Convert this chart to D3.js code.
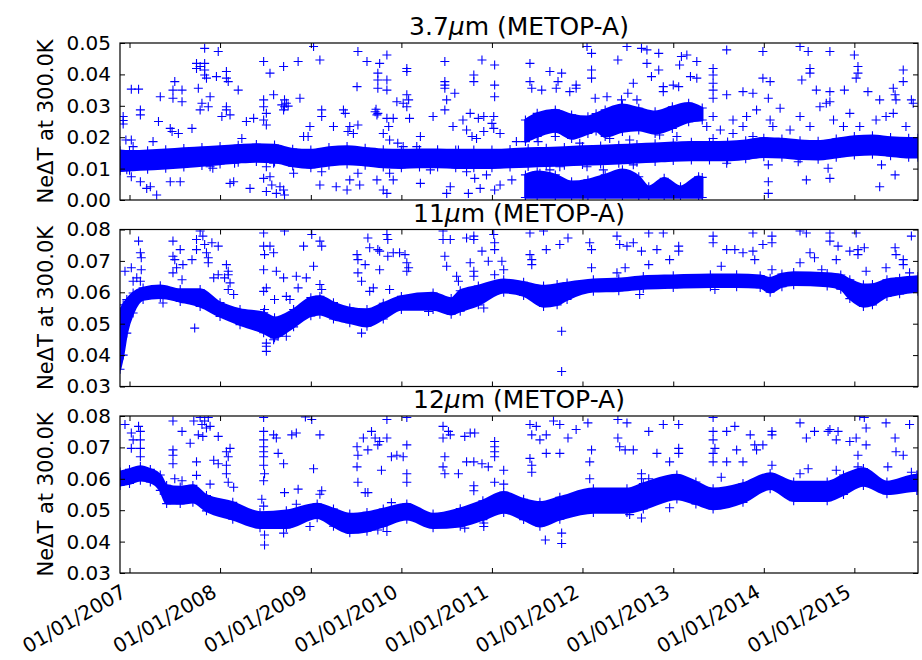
<!DOCTYPE html>
<html>
<head>
<meta charset="utf-8">
<script src="https://cdn.jsdelivr.net/npm/d3@7"></script>
<style>
body { margin: 0; background: #fff; }
svg text { font-family: "DejaVu Sans", sans-serif; }
</style>
</head>
<body>
<div class="wrapper"></div>
<script>

// x axis: decimal years
var xStart = 2006.895, xEnd = 2015.703;
var tickYears = [2007, 2008, 2009, 2010, 2011, 2012, 2013, 2014, 2015];

var yTicks1 = [0.00, 0.01, 0.02, 0.03, 0.04, 0.05];
var yTicks23 = [0.03, 0.04, 0.05, 0.06, 0.07, 0.08];

// 3.7um main band (lower / upper edge)
var p1Years = [2006.895, 2007.0, 2007.2, 2007.4, 2007.6, 2007.8, 2008.0, 2008.2, 2008.4, 2008.6, 2008.8, 2009.0, 2009.2, 2009.4, 2009.6, 2009.8, 2010.0, 2010.2, 2010.4, 2010.6, 2010.8, 2011.0, 2011.2, 2011.4, 2011.6, 2011.8, 2012.0, 2012.2, 2012.4, 2012.6, 2012.8, 2013.0, 2013.2, 2013.4, 2013.6, 2013.8, 2014.0, 2014.2, 2014.4, 2014.6, 2014.8, 2015.0, 2015.2, 2015.4, 2015.6, 2015.703];
var p1Lo = [0.0093, 0.0095, 0.0098, 0.0101, 0.0105, 0.0110, 0.0115, 0.0120, 0.0123, 0.0121, 0.0108, 0.0103, 0.0111, 0.0115, 0.0111, 0.0105, 0.0103, 0.0105, 0.0105, 0.0103, 0.0103, 0.0103, 0.0105, 0.0107, 0.0109, 0.0111, 0.0113, 0.0115, 0.0117, 0.0120, 0.0123, 0.0126, 0.0127, 0.0127, 0.0127, 0.0131, 0.0138, 0.0136, 0.0131, 0.0130, 0.0136, 0.0143, 0.0146, 0.0141, 0.0136, 0.0136];
var p1Hi = [0.0157, 0.0155, 0.0157, 0.0160, 0.0164, 0.0167, 0.0170, 0.0174, 0.0177, 0.0175, 0.0162, 0.0159, 0.0167, 0.0170, 0.0165, 0.0160, 0.0159, 0.0160, 0.0160, 0.0159, 0.0159, 0.0159, 0.0161, 0.0164, 0.0165, 0.0167, 0.0170, 0.0172, 0.0174, 0.0177, 0.0179, 0.0182, 0.0184, 0.0184, 0.0185, 0.0189, 0.0197, 0.0194, 0.0189, 0.0187, 0.0194, 0.0202, 0.0205, 0.0199, 0.0197, 0.0197];

// 3.7um upper wavy band 2011-2013
var p1UpYears = [2011.37, 2011.5, 2011.7, 2011.88, 2012.06, 2012.15, 2012.25, 2012.44, 2012.62, 2012.8, 2012.99, 2013.17, 2013.32];
var p1UpLo = [0.0186, 0.0202, 0.0218, 0.0196, 0.0212, 0.0220, 0.0202, 0.0218, 0.0223, 0.0212, 0.0228, 0.0249, 0.0255];
var p1UpHi = [0.0255, 0.0276, 0.0287, 0.0271, 0.0265, 0.0275, 0.0287, 0.0303, 0.0292, 0.0281, 0.0297, 0.0308, 0.0293];

// 3.7um lower wavy band 2011-2013
var p1DnYears = [2011.37, 2011.5, 2011.7, 2011.88, 2012.06, 2012.25, 2012.44, 2012.62, 2012.73, 2012.9, 2013.08, 2013.28, 2013.32];
var p1DnLo = [0.0008, 0.0008, 0.0008, 0.0008, 0.0008, 0.0008, 0.0008, 0.0008, 0.0008, 0.0008, 0.0008, 0.0008, 0.0008];
var p1DnHi = [0.0080, 0.0090, 0.0080, 0.0058, 0.0064, 0.0080, 0.0096, 0.0074, 0.0042, 0.0069, 0.0042, 0.0074, 0.0072];

// 11um band
var p2Years = [2006.895, 2006.93, 2006.97, 2007.04, 2007.15, 2007.34, 2007.56, 2007.78, 2008.0, 2008.22, 2008.48, 2008.6, 2008.81, 2009.0, 2009.1, 2009.25, 2009.43, 2009.62, 2009.8, 2010.0, 2010.35, 2010.55, 2010.65, 2010.85, 2011.13, 2011.35, 2011.57, 2011.72, 2011.83, 2012.12, 2012.4, 2012.67, 2013.0, 2013.41, 2013.7, 2013.96, 2014.07, 2014.2, 2014.33, 2014.7, 2014.85, 2014.95, 2015.1, 2015.2, 2015.36, 2015.5, 2015.703];
var p2Lo = [0.0355, 0.0400, 0.0470, 0.0534, 0.0577, 0.0583, 0.0571, 0.0555, 0.0523, 0.0497, 0.0471, 0.0455, 0.0490, 0.0525, 0.0530, 0.0515, 0.0503, 0.0492, 0.0515, 0.0545, 0.0545, 0.0530, 0.0540, 0.0560, 0.0600, 0.0590, 0.0555, 0.0560, 0.0577, 0.0603, 0.0605, 0.0612, 0.0615, 0.0618, 0.0618, 0.0615, 0.0600, 0.0618, 0.0624, 0.0620, 0.0610, 0.0580, 0.0555, 0.0560, 0.0587, 0.0595, 0.0603];
var p2Hi = [0.0540, 0.0560, 0.0577, 0.0598, 0.0614, 0.0621, 0.0609, 0.0609, 0.0567, 0.0545, 0.0535, 0.0519, 0.0545, 0.0583, 0.0587, 0.0567, 0.0550, 0.0545, 0.0565, 0.0587, 0.0598, 0.0580, 0.0605, 0.0620, 0.0640, 0.0632, 0.0620, 0.0625, 0.0630, 0.0640, 0.0643, 0.0650, 0.0653, 0.0656, 0.0656, 0.0653, 0.0645, 0.0658, 0.0663, 0.0660, 0.0655, 0.0640, 0.0624, 0.0625, 0.0640, 0.0645, 0.0650];

// 12um band
var p3Years = [2006.895, 2007.0, 2007.12, 2007.23, 2007.34, 2007.41, 2007.56, 2007.7, 2007.85, 2008.14, 2008.44, 2008.73, 2009.07, 2009.25, 2009.43, 2009.62, 2009.8, 2010.06, 2010.35, 2010.65, 2010.9, 2011.13, 2011.35, 2011.53, 2011.75, 2012.12, 2012.49, 2012.67, 2013.04, 2013.25, 2013.44, 2013.77, 2014.07, 2014.33, 2014.7, 2014.88, 2015.1, 2015.36, 2015.69, 2015.703];
var p3Lo = [0.0579, 0.0585, 0.0595, 0.0590, 0.0563, 0.0521, 0.0521, 0.0525, 0.0498, 0.0471, 0.0444, 0.0444, 0.0476, 0.0449, 0.0428, 0.0433, 0.0449, 0.0471, 0.0444, 0.0449, 0.0470, 0.0493, 0.0470, 0.0449, 0.0471, 0.0493, 0.0493, 0.0504, 0.0536, 0.0520, 0.0504, 0.0525, 0.0568, 0.0530, 0.0530, 0.0550, 0.0579, 0.0552, 0.0563, 0.0563];
var p3Hi = [0.0622, 0.0630, 0.0639, 0.0630, 0.0612, 0.0579, 0.0574, 0.0579, 0.0547, 0.0525, 0.0493, 0.0498, 0.0520, 0.0504, 0.0488, 0.0493, 0.0504, 0.0520, 0.0488, 0.0505, 0.0530, 0.0557, 0.0535, 0.0525, 0.0541, 0.0568, 0.0568, 0.0585, 0.0612, 0.0590, 0.0568, 0.0585, 0.0617, 0.0590, 0.0590, 0.0612, 0.0633, 0.0590, 0.0612, 0.0612];

// scattered points [year, value]
var p1Outliers = [
	[2006.93,0.0266],[2006.93,0.0253],[2006.93,0.0242],[2007.02,0.0353],[2007.10,0.0353],[2007.12,0.0287],[2007.12,0.0271],[2006.96,0.0191],[2007.02,0.0191],[2007.04,0.0170],
	[2006.97,0.0096],[2007.02,0.0074],[2007.12,0.0058],[2007.19,0.0037],[2007.34,0.0329],[2007.32,0.0250],[2007.26,0.0186],[2007.23,0.0042],[2007.30,0.0016],[2007.50,0.0377],
	[2007.48,0.0350],[2007.48,0.0324],[2007.58,0.0350],[2007.58,0.0313],[2007.45,0.0228],[2007.47,0.0218],[2007.54,0.0212],[2007.45,0.0058],[2007.56,0.0058],[2007.69,0.0228],
	[2007.74,0.0435],[2007.74,0.0419],[2007.78,0.0425],[2007.83,0.0435],[2007.83,0.0414],[2007.83,0.0398],[2007.85,0.0388],[2007.83,0.0483],[2007.98,0.0473],[2007.76,0.0356],
	[2007.80,0.0308],[2007.78,0.0287],[2007.87,0.0297],[2007.89,0.0329],[2007.89,0.0106],[2007.92,0.0101],[2008.07,0.0409],[2008.07,0.0388],[2008.09,0.0377],[2007.96,0.0393],
	[2008.07,0.0297],[2008.07,0.0287],[2008.11,0.0271],[2008.02,0.0266],[2008.20,0.0350],[2008.16,0.0117],[2008.11,0.0053],[2008.15,0.0058],[2008.24,0.0196],[2008.29,0.0250],
	[2008.33,0.0037],[2008.48,0.0441],[2008.55,0.0404],[2008.48,0.0319],[2008.48,0.0297],[2008.51,0.0276],[2008.48,0.0255],[2008.51,0.0239],[2008.37,0.0260],[2008.42,0.0154],
	[2008.59,0.0335],[2008.70,0.0425],[2008.86,0.0441],[2008.68,0.0303],[2008.71,0.0297],[2008.75,0.0299],[2008.70,0.0287],[2008.73,0.0308],[2008.71,0.0319],[2008.88,0.0324],
	[2008.51,0.0106],[2008.59,0.0117],[2008.48,0.0069],[2008.55,0.0074],[2008.51,0.0027],[2008.62,0.0021],[2008.71,0.0016],[2008.70,0.0032],[2008.66,0.0042],[2008.57,0.0048],
	[2008.81,0.0085],[2008.92,0.0202],[2008.97,0.0202],[2009.03,0.0489],[2009.10,0.0446],[2009.12,0.0287],[2009.12,0.0266],[2008.99,0.0234],[2009.12,0.0090],[2009.10,0.0048],
	[2009.25,0.0234],[2009.36,0.0287],[2009.38,0.0276],[2009.51,0.0361],[2009.52,0.0473],[2009.62,0.0441],[2009.43,0.0234],[2009.47,0.0212],[2009.41,0.0218],[2009.52,0.0239],
	[2009.52,0.0085],[2009.54,0.0048],[2009.43,0.0064],[2009.40,0.0032],[2009.28,0.0042],[2009.71,0.0281],[2009.73,0.0271],[2009.74,0.0276],[2009.72,0.0289],[2009.76,0.0435],
	[2009.84,0.0462],[2009.74,0.0404],[2009.74,0.0382],[2009.74,0.0356],[2009.84,0.0382],[2009.84,0.0350],[2009.84,0.0260],[2009.86,0.0234],[2009.80,0.0212],[2009.87,0.0191],
	[2009.91,0.0260],[2009.73,0.0064],[2009.80,0.0032],[2009.87,0.0085],[2009.91,0.0064],[2009.84,0.0021],[2010.06,0.0419],[2010.06,0.0409],[2010.06,0.0335],[2010.08,0.0319],
	[2010.06,0.0297],[2010.09,0.0260],[2009.95,0.0313],[2010.02,0.0308],[2009.96,0.0181],[2010.02,0.0170],[2010.17,0.0170],[2010.21,0.0202],[2010.35,0.0266],[2010.48,0.0441],
	[2010.48,0.0377],[2010.48,0.0366],[2010.48,0.0356],[2010.48,0.0287],[2010.50,0.0319],[2010.59,0.0340],[2010.57,0.0234],[2010.21,0.0053],[2010.32,0.0096],[2010.50,0.0021],
	[2010.54,0.0042],[2010.63,0.0159],
	[2010.89,0.0446],[2010.80,0.0398],[2010.80,0.0377],[2011.03,0.0430],[2011.03,0.0366],[2011.03,0.0329],[2011.42,0.0435],[2011.64,0.0409],[2011.77,0.0404],[2011.44,0.0356],
	[2011.42,0.0377],[2011.55,0.0350],[2011.71,0.0356],[2011.73,0.0377],[2011.86,0.0345],[2011.93,0.0366],[2011.93,0.0356],[2012.10,0.0467],[2012.10,0.0414],[2012.10,0.0388],
	[2012.05,0.0489],[2012.39,0.0446],[2012.49,0.0489],[2012.65,0.0483],[2012.71,0.0478],[2012.84,0.0467],[2012.56,0.0372],[2012.71,0.0435],[2012.76,0.0393],[2012.84,0.0414],
	[2012.89,0.0361],[2012.89,0.0345],[2013.00,0.0366],[2013.06,0.0361],[2013.07,0.0430],[2013.09,0.0457],[2013.15,0.0462],[2013.19,0.0393],[2013.26,0.0441],[2013.26,0.0388],
	[2012.14,0.0324],[2012.27,0.0329],[2012.43,0.0319],[2012.50,0.0340],[2012.60,0.0319],[2010.68,0.0255],[2010.76,0.0276],[2010.85,0.0260],[2010.91,0.0266],[2011.00,0.0244],
	[2011.02,0.0266],[2010.78,0.0202],[2010.91,0.0218],[2011.02,0.0228],[2011.09,0.0212],[2010.72,0.0223],[2010.83,0.0196],[2010.72,0.0090],[2010.81,0.0069],[2010.74,0.0021],
	[2010.87,0.0037],[2010.94,0.0080],[2011.09,0.0048],[2011.22,0.0064],[2011.03,0.0032],[2011.27,0.0186],[2011.51,0.0186],[2011.70,0.0202],[2011.97,0.0181],[2012.30,0.0196],
	[2012.52,0.0191],[2012.85,0.0207],[2013.04,0.0202],[2011.53,0.0085],[2011.64,0.0096],[2011.75,0.0106],[2012.05,0.0106],[2012.23,0.0096],[2012.41,0.0085],[2012.56,0.0112],
	[2013.37,0.0234],[2013.44,0.0266],[2013.44,0.0196],[2013.52,0.0223],[2013.59,0.0170],[2013.66,0.0255],[2013.66,0.0212],[2013.77,0.0234],[2013.81,0.0266],[2013.88,0.0202],
	[2013.92,0.0287],[2014.07,0.0255],[2014.10,0.0234],[2014.18,0.0292],[2014.29,0.0223],[2014.40,0.0266],[2014.51,0.0234],[2014.62,0.0297],[2014.69,0.0308],[2014.73,0.0313],
	[2014.77,0.0255],[2014.88,0.0234],[2014.95,0.0276],[2015.06,0.0234],[2015.24,0.0255],[2015.35,0.0266],[2015.43,0.0276],[2015.57,0.0234],[2015.65,0.0308],[2013.44,0.0419],
	[2013.44,0.0398],[2013.44,0.0372],[2013.44,0.0350],[2013.44,0.0324],[2013.59,0.0478],[2013.59,0.0335],[2013.77,0.0345],[2013.88,0.0340],[2013.99,0.0388],[2013.99,0.0473],
	[2014.07,0.0377],[2014.05,0.0324],[2014.40,0.0489],[2014.49,0.0473],[2014.51,0.0419],[2014.51,0.0404],[2014.42,0.0382],[2014.58,0.0350],[2014.73,0.0473],[2014.73,0.0345],
	[2014.89,0.0350],[2015.00,0.0462],[2015.04,0.0425],[2015.04,0.0404],[2015.02,0.0388],[2015.15,0.0345],[2015.28,0.0319],[2015.43,0.0356],[2015.45,0.0335],[2015.46,0.0319],
	[2015.54,0.0414],[2015.54,0.0377],[2015.63,0.0319],[2013.59,0.0117],[2014.05,0.0112],[2014.05,0.0058],[2014.05,0.0021],[2014.47,0.0064],[2014.71,0.0101],[2014.73,0.0069],
	[2015.30,0.0112],[2015.28,0.0042],[2015.45,0.0080],[2014.38,0.0122]
];

var p2Outliers = [
	[2006.95,0.0667],[2007.02,0.0678],[2007.04,0.0635],[2007.10,0.0763],[2007.12,0.0726],[2007.13,0.0710],[2007.13,0.0672],[2007.08,0.0646],[2007.12,0.0635],[2007.48,0.0763],
	[2007.48,0.0715],[2007.50,0.0704],[2007.52,0.0678],[2007.48,0.0662],[2007.56,0.0736],[2007.59,0.0688],[2007.58,0.0640],[2007.69,0.0704],[2007.74,0.0768],[2007.74,0.0736],
	[2007.78,0.0795],[2007.81,0.0779],[2007.83,0.0752],[2007.85,0.0726],[2007.87,0.0710],[2007.87,0.0694],[2007.91,0.0758],[2007.98,0.0747],[2007.93,0.0646],[2007.98,0.0656],
	[2008.05,0.0646],[2008.09,0.0656],[2008.07,0.0688],[2008.09,0.0667],[2008.09,0.0609],[2008.11,0.0630],[2008.15,0.0593],[2007.72,0.0486],[2007.37,0.0566],[2008.48,0.0789],
	[2008.48,0.0747],[2008.49,0.0720],[2008.48,0.0672],[2008.51,0.0614],[2008.48,0.0603],[2008.49,0.0545],[2008.55,0.0747],[2008.59,0.0726],[2008.62,0.0667],[2008.70,0.0646],
	[2008.71,0.0795],[2008.60,0.0577],[2008.73,0.0587],[2008.77,0.0577],[2008.84,0.0651],[2008.92,0.0747],[2008.95,0.0646],[2009.01,0.0784],[2009.10,0.0763],[2009.12,0.0747],
	[2009.03,0.0683],[2009.10,0.0625],[2009.12,0.0609],[2009.10,0.0577],[2008.86,0.0614],[2008.51,0.0438],[2008.51,0.0428],[2008.51,0.0412],[2008.59,0.0449],[2008.64,0.0460],
	[2008.73,0.0460],[2009.51,0.0720],[2009.52,0.0704],[2009.52,0.0662],[2009.56,0.0635],[2009.60,0.0688],[2009.63,0.0773],[2009.65,0.0742],[2009.74,0.0736],[2009.76,0.0731],
	[2009.84,0.0784],[2009.85,0.0768],[2009.85,0.0715],[2009.91,0.0726],[2009.98,0.0726],[2010.04,0.0720],[2010.06,0.0694],[2010.08,0.0678],[2010.06,0.0667],[2009.69,0.0614],
	[2009.87,0.0609],[2009.65,0.0603],[2009.76,0.0672],[2009.56,0.0470],[2010.46,0.0795],[2010.46,0.0768],[2010.48,0.0715],[2010.50,0.0683],[2010.54,0.0768],[2010.61,0.0651],
	[2010.63,0.0635],[2010.30,0.0539],
	[2010.72,0.0773],[2010.80,0.0779],[2010.80,0.0768],[2010.89,0.0731],[2011.02,0.0784],[2011.03,0.0758],[2011.03,0.0736],[2010.76,0.0694],[2010.80,0.0667],[2010.80,0.0651],
	[2010.96,0.0699],[2011.03,0.0656],[2011.11,0.0699],[2011.13,0.0672],[2010.91,0.0550],[2011.42,0.0789],[2011.42,0.0720],[2011.44,0.0704],[2011.44,0.0688],[2011.57,0.0795],
	[2011.60,0.0736],[2011.75,0.0752],[2011.84,0.0773],[2011.77,0.0476],[2011.77,0.0348],[2012.08,0.0758],[2012.10,0.0736],[2012.10,0.0678],[2012.38,0.0779],[2012.41,0.0752],
	[2012.38,0.0662],[2012.47,0.0678],[2012.49,0.0747],[2012.56,0.0758],[2012.65,0.0731],[2012.73,0.0789],[2012.73,0.0688],[2012.82,0.0736],[2012.89,0.0789],[2012.96,0.0704],
	[2013.06,0.0747],[2013.06,0.0731],[2013.44,0.0779],[2013.44,0.0758],[2013.53,0.0683],[2013.59,0.0736],[2013.68,0.0736],[2013.77,0.0726],[2013.88,0.0731],[2013.90,0.0704],
	[2013.99,0.0752],[2014.09,0.0779],[2014.09,0.0758],[2014.09,0.0672],[2013.88,0.0789],[2014.40,0.0795],[2014.47,0.0789],[2014.51,0.0726],[2014.56,0.0710],[2014.40,0.0694],
	[2014.64,0.0672],[2014.73,0.0789],[2014.73,0.0763],[2014.82,0.0747],[2014.80,0.0704],[2014.95,0.0731],[2015.02,0.0789],[2015.04,0.0736],[2015.11,0.0742],[2015.04,0.0720],
	[2015.13,0.0667],[2015.35,0.0678],[2015.45,0.0742],[2015.46,0.0720],[2015.54,0.0704],[2015.54,0.0688],[2015.63,0.0779],[2015.61,0.0662],[2013.46,0.0609],[2012.63,0.0593]
];

var p3Outliers = [
	[2006.95,0.0773],[2007.02,0.0746],[2007.04,0.0724],[2007.02,0.0697],[2007.10,0.0767],[2007.12,0.0751],[2007.12,0.0724],[2007.12,0.0697],[2007.12,0.0670],[2007.48,0.0784],
	[2007.48,0.0692],[2007.48,0.0675],[2007.48,0.0648],[2007.50,0.0600],[2007.58,0.0751],[2007.58,0.0594],[2007.67,0.0713],[2007.71,0.0784],[2007.74,0.0654],[2007.74,0.0611],
	[2007.76,0.0740],[2007.78,0.0795],[2007.80,0.0773],[2007.81,0.0735],[2007.83,0.0784],[2007.85,0.0762],[2007.87,0.0795],[2007.89,0.0767],[2007.89,0.0583],[2007.98,0.0735],
	[2007.93,0.0659],[2007.98,0.0648],[2008.07,0.0686],[2008.09,0.0670],[2008.07,0.0643],[2008.07,0.0616],[2008.09,0.0589],[2008.15,0.0573],[2008.11,0.0697],[2008.48,0.0795],
	[2008.48,0.0751],[2008.48,0.0724],[2008.48,0.0702],[2008.48,0.0686],[2008.48,0.0670],[2008.48,0.0643],[2008.49,0.0616],[2008.48,0.0594],[2008.46,0.0535],[2008.48,0.0513],
	[2008.59,0.0740],[2008.62,0.0730],[2008.64,0.0681],[2008.70,0.0648],[2008.71,0.0556],[2008.79,0.0740],[2008.84,0.0746],[2008.86,0.0567],[2008.84,0.0519],[2008.94,0.0797],
	[2009.01,0.0789],[2009.03,0.0632],[2009.10,0.0740],[2009.12,0.0562],[2009.10,0.0551],[2008.99,0.0448],[2008.49,0.0421],[2008.49,0.0389],[2008.70,0.0427],[2009.51,0.0702],
	[2009.51,0.0638],[2009.52,0.0675],[2009.52,0.0589],[2009.58,0.0730],[2009.60,0.0556],[2009.63,0.0556],[2009.63,0.0692],[2009.67,0.0751],[2009.71,0.0730],[2009.74,0.0708],
	[2009.76,0.0719],[2009.78,0.0627],[2009.84,0.0730],[2009.84,0.0789],[2009.89,0.0670],[2009.95,0.0675],[2010.02,0.0670],[2010.06,0.0795],[2010.06,0.0708],[2010.06,0.0616],
	[2010.06,0.0589],[2009.89,0.0524],[2009.84,0.0432],[2009.74,0.0437],[2010.46,0.0767],[2010.46,0.0730],[2010.48,0.0670],[2010.46,0.0638],[2010.48,0.0616],[2010.52,0.0751],
	[2010.54,0.0740],[2010.63,0.0616],
	[2010.70,0.0735],[2010.76,0.0746],[2010.81,0.0746],[2010.72,0.0654],[2010.80,0.0654],[2010.89,0.0648],[2010.96,0.0638],[2011.03,0.0719],[2011.03,0.0702],[2011.03,0.0686],
	[2011.03,0.0670],[2011.03,0.0589],[2011.13,0.0583],[2011.13,0.0627],[2010.80,0.0578],[2010.80,0.0562],[2010.70,0.0443],[2010.91,0.0459],[2010.91,0.0448],[2011.42,0.0773],
	[2011.44,0.0740],[2011.49,0.0767],[2011.53,0.0724],[2011.60,0.0740],[2011.60,0.0681],[2011.42,0.0665],[2011.44,0.0643],[2011.44,0.0621],[2011.75,0.0681],[2011.75,0.0773],
	[2011.68,0.0784],[2011.84,0.0730],[2011.93,0.0757],[2012.06,0.0778],[2012.10,0.0692],[2012.08,0.0654],[2012.08,0.0600],[2011.59,0.0405],[2011.77,0.0427],[2011.77,0.0394],
	[2012.39,0.0789],[2012.39,0.0730],[2012.41,0.0702],[2012.49,0.0778],[2012.47,0.0692],[2012.56,0.0692],[2012.65,0.0616],[2012.65,0.0600],[2012.73,0.0751],[2012.73,0.0600],
	[2012.82,0.0681],[2012.89,0.0773],[2012.96,0.0654],[2013.06,0.0773],[2013.06,0.0697],[2013.06,0.0681],[2012.96,0.0508],[2012.65,0.0475],[2012.52,0.0486],[2013.44,0.0795],
	[2013.44,0.0751],[2013.44,0.0724],[2013.46,0.0697],[2013.44,0.0681],[2013.44,0.0654],[2013.53,0.0605],[2013.59,0.0751],[2013.68,0.0767],[2013.70,0.0692],[2013.59,0.0654],
	[2013.77,0.0654],[2013.85,0.0740],[2013.90,0.0708],[2013.92,0.0692],[2013.99,0.0708],[2014.09,0.0751],[2014.09,0.0740],[2014.09,0.0643],[2014.40,0.0778],[2014.47,0.0730],
	[2014.49,0.0632],[2014.56,0.0751],[2014.40,0.0616],[2014.71,0.0751],[2014.73,0.0757],[2014.80,0.0724],[2014.82,0.0751],[2014.80,0.0627],[2014.95,0.0719],[2015.02,0.0730],
	[2015.04,0.0675],[2015.04,0.0638],[2015.11,0.0795],[2015.13,0.0762],[2015.13,0.0708],[2015.06,0.0800],[2015.35,0.0778],[2015.45,0.0730],[2015.46,0.0686],[2015.54,0.0675],
	[2015.37,0.0638],[2015.61,0.0773],[2015.63,0.0621]
];

var W = 922, H = 660,
	LEFT = 120, RIGHT = 918,
	PANEL_H = 157,
	BLUE = "#0000ff",
	PLUS = "M-4.5,0H4.5M0,-4.5V4.5";

var panelTops = [43, 229.5, 416];

// decimal year -> Date
function toDate(yr) {
	var y0 = Math.floor(yr),
		a = Date.UTC(y0, 0, 1),
		b = Date.UTC(y0 + 1, 0, 1);
	return new Date(a + (yr - y0) * (b - a));
}

var x = d3.scaleUtc()
	.domain([toDate(xStart), toDate(xEnd)])
	.range([LEFT, RIGHT]);

var tickDates = tickYears.map(function(d) { return toDate(d); });

var svg = d3.select(".wrapper")
	.append("svg")
		.attr("width", W)
		.attr("height", H);

var defs = svg.append("defs");

function bandRows(years, lo, hi) {
	return years.map(function(yr, k) {
		return {d: toDate(yr), lo: lo[k], hi: hi[k]};
	});
}

function drawPanel(i, yDomain, yTicks, titleNum, bands, outliers, xLabels) {
	var top = panelTops[i],
		bottom = top + PANEL_H;

	var y = d3.scaleLinear()
		.domain(yDomain)
		.range([bottom, top]);

	defs.append("clipPath")
		.attr("id", "clip" + i)
		.append("rect")
			.attr("x", LEFT)
			.attr("y", top)
			.attr("width", RIGHT - LEFT)
			.attr("height", PANEL_H);

	var plot = svg.append("g")
		.attr("clip-path", "url(#clip" + i + ")");

	var area = d3.area()
		.curve(d3.curveMonotoneX)
		.x(function(d) { return x(d.d); })
		.y0(function(d) { return y(d.lo); })
		.y1(function(d) { return y(d.hi); });

	bands.forEach(function(rows) {
		plot.append("path")
			.datum(rows)
			.attr("d", area)
			.attr("fill", BLUE)
			.attr("stroke", BLUE)
			.attr("stroke-width", 2.5)
			.attr("stroke-linejoin", "round");

		// fuzzy edges of the dense band
		var edges = [];
		rows.forEach(function(r) {
			edges.push([r.d, r.lo]);
			edges.push([r.d, r.hi]);
		});
		plot.selectAll(null)
			.data(edges)
			.enter()
			.append("path")
				.attr("d", PLUS)
				.attr("transform", function(d) { return "translate(" + x(d[0]) + "," + y(d[1]) + ")"; })
				.attr("fill", "none")
				.attr("stroke", BLUE)
				.attr("stroke-width", 1.1);
	});

	plot.selectAll(null)
		.data(outliers)
		.enter()
		.append("path")
			.attr("d", PLUS)
			.attr("transform", function(d) { return "translate(" + x(toDate(d[0])) + "," + y(d[1]) + ")"; })
			.attr("fill", "none")
			.attr("stroke", BLUE)
			.attr("stroke-width", 1.1);

	// inward ticks on all four sides
	function clean(g) {
		g.select(".domain").remove();
		g.selectAll(".tick line").attr("stroke", "#000");
	}

	svg.append("g")
		.attr("transform", "translate(0," + bottom + ")")
		.call(d3.axisBottom(x).tickValues(tickDates).tickSize(-5).tickSizeOuter(0).tickFormat(""))
		.call(clean);

	svg.append("g")
		.attr("transform", "translate(0," + top + ")")
		.call(d3.axisTop(x).tickValues(tickDates).tickSize(-5).tickSizeOuter(0).tickFormat(""))
		.call(clean);

	svg.append("g")
		.attr("transform", "translate(" + RIGHT + ",0)")
		.call(d3.axisRight(y).tickValues(yTicks).tickSize(-5).tickSizeOuter(0).tickFormat(""))
		.call(clean);

	svg.append("g")
		.attr("transform", "translate(" + LEFT + ",0)")
		.call(d3.axisLeft(y).tickValues(yTicks).tickSize(-5).tickSizeOuter(0).tickPadding(9).tickFormat(d3.format(".2f")))
		.call(clean)
		.attr("font-size", 20)
		.attr("font-family", "DejaVu Sans");

	svg.append("rect")
		.attr("x", LEFT)
		.attr("y", top)
		.attr("width", RIGHT - LEFT)
		.attr("height", PANEL_H)
		.attr("fill", "none")
		.attr("stroke", "#000")
		.attr("stroke-width", 1.2);

	var title = svg.append("text")
		.attr("x", (LEFT + RIGHT) / 2)
		.attr("y", top - 8)
		.attr("text-anchor", "middle")
		.attr("font-size", 25);
	title.append("tspan").text(titleNum);
	title.append("tspan").attr("font-style", "italic").text("\u03bc");
	title.append("tspan").text("m (METOP-A)");

	svg.append("text")
		.attr("transform", "translate(53," + (top + PANEL_H / 2) + ") rotate(-90)")
		.attr("text-anchor", "middle")
		.attr("font-size", 21)
		.text("Ne\u0394T at 300.0K");

	if (xLabels) {
		svg.selectAll(null)
			.data(tickDates)
			.enter()
			.append("text")
				.attr("transform", function(d) { return "translate(" + (x(d) - 2) + "," + (bottom + 23) + ") rotate(-30)"; })
				.attr("text-anchor", "end")
				.attr("font-size", 20)
				.text(d3.utcFormat("%d/%m/%Y"));
	}
}

drawPanel(0, [0, 0.05], yTicks1, "3.7",
	[bandRows(p1Years, p1Lo, p1Hi), bandRows(p1UpYears, p1UpLo, p1UpHi), bandRows(p1DnYears, p1DnLo, p1DnHi)],
	p1Outliers, false);

drawPanel(1, [0.03, 0.08], yTicks23, "11",
	[bandRows(p2Years, p2Lo, p2Hi)],
	p2Outliers, false);

drawPanel(2, [0.03, 0.08], yTicks23, "12",
	[bandRows(p3Years, p3Lo, p3Hi)],
	p3Outliers, true);

</script>
</body>
</html>
